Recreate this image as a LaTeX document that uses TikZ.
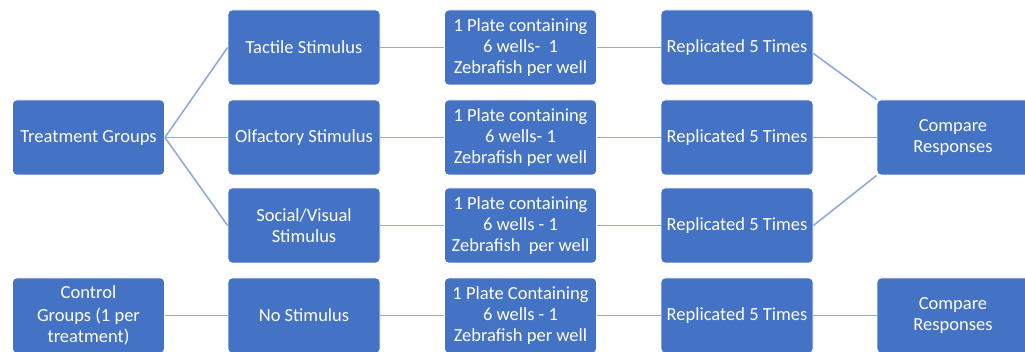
\documentclass[tikz,border=0pt]{standalone}
\usepackage{fontspec}
\setmainfont{Carlito}
\definecolor{boxblue}{HTML}{4472C4}
\definecolor{linkblue}{HTML}{8FAADC}
\begin{document}
\begin{tikzpicture}[x=1pt,y=-1pt,
  blk/.style={rectangle, rounded corners=4pt, fill=boxblue, draw=white, line width=0.8pt,
    minimum width=152pt, minimum height=75pt, inner sep=0pt, text=white, align=center,
    font=\fontsize{18.5}{21}\selectfont},
  link/.style={draw=linkblue, line width=1.6pt}]
\useasboundingbox (0,0) rectangle (1025,352);
% column 1
\node[blk] (tg) at (88.5,137.5) {Treatment Groups};
\node[blk] (cg) at (88.5,315.5) {Control\\[2pt] Groups (1 per\\ treatment)};
% column 2
\node[blk] (tac) at (304,47.5) {Tactile Stimulus};
\node[blk] (olf) at (304,137.5) {Olfactory Stimulus};
\node[blk] (soc) at (304,225.5) {Social/Visual\\ Stimulus};
\node[blk] (nos) at (304,315.5) {No Stimulus};
% column 3
\node[blk] (p1) at (520.5,47.5) {1 Plate containing\\ 6 wells-~ 1\\ Zebrafish per well};
\node[blk] (p2) at (520.5,137.5) {1 Plate containing\\ 6 wells- 1\\ Zebrafish per well};
\node[blk] (p3) at (520.5,225.5) {1 Plate containing\\ 6 wells - 1\\ Zebrafish~ per well};
\node[blk] (p4) at (520.5,315.5) {1 Plate Containing\\ 6 wells - 1\\ Zebrafish per well};
% column 4
\node[blk] (r1) at (737,47.5) {Replicated 5 Times};
\node[blk] (r2) at (737,137.5) {Replicated 5 Times};
\node[blk] (r3) at (737,225.5) {Replicated 5 Times};
\node[blk] (r4) at (737,315.5) {Replicated 5 Times};
% column 5
\node[blk] (c1) at (953,137.5) {Compare\\ Responses};
\node[blk] (c2) at (953,315.5) {Compare\\ Responses};
% connectors
\path[link] (tg.east) -- (tac.west);
\path[link] (tg.east) -- (olf.west);
\path[link] (tg.east) -- (soc.west);
\path[link] (cg.east) -- (nos.west);
\path[link] (tac.east) -- (p1.west);
\path[link] (olf.east) -- (p2.west);
\path[link] (soc.east) -- (p3.west);
\path[link] (nos.east) -- (p4.west);
\path[link] (p1.east) -- (r1.west);
\path[link] (p2.east) -- (r2.west);
\path[link] (p3.east) -- (r3.west);
\path[link] (p4.east) -- (r4.west);
\path[link] ([yshift=-6pt]r1.east) -- (c1.north west);
\path[link] (r2.east) -- (c1.west);
\path[link] (r3.east) -- (c1.south west);
\path[link] (r4.east) -- (c2.west);
\end{tikzpicture}
\end{document}
